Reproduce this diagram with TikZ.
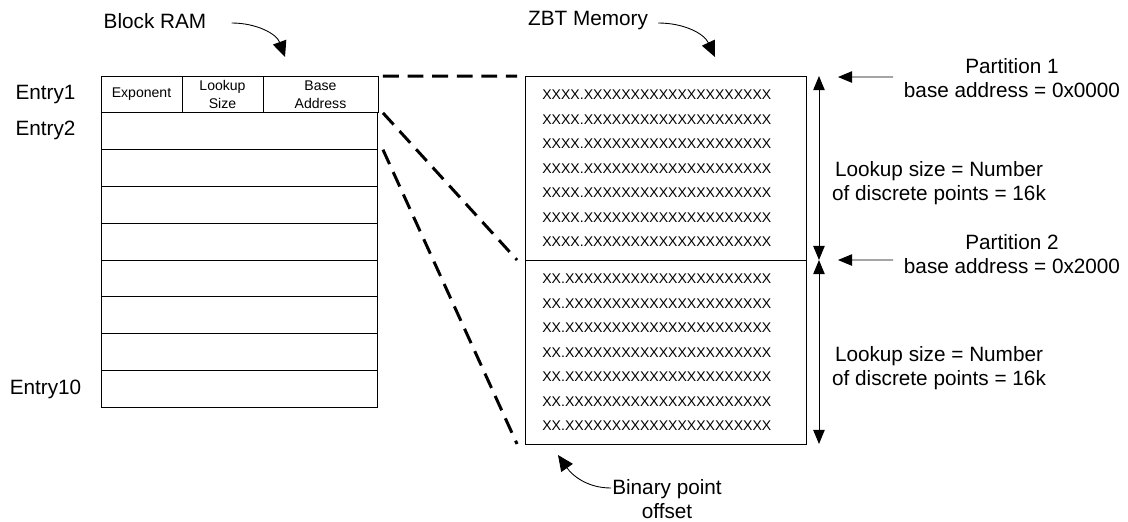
\documentclass[tikz,border=0pt]{standalone}
\usepackage{fontspec}
\setmainfont{Liberation Sans}
\usetikzlibrary{arrows.meta, positioning}
\tikzset{%
	ramcell/.style={
		draw,
		line width=0.55pt,
		inner sep=0pt,
		outer sep=0pt,
		minimum height=0.736cm,
		align=center,
		font=\fontsize{8}{10}\selectfont
	},
	zbthalf/.style={
		draw,
		line width=0.55pt,
		inner sep=0pt,
		outer sep=0pt,
		minimum width=5.62cm,
		minimum height=3.68cm
	},
	bits/.style={anchor=west, inner sep=0pt, font=\fontsize{8}{10}\selectfont},
	txt/.style={inner sep=0pt, align=center, font=\fontsize{11.8}{13.6}\selectfont},
	mapline/.style={dash pattern=on 9pt off 5pt, line width=1.7pt},
	bendarrow/.style={-{Triangle[length=9pt,width=8pt]}, line width=0.5pt},
	dimline/.style={{Triangle[length=8pt,width=6.5pt]}-{Triangle[length=8pt,width=6.5pt]}, line width=0.5pt},
	pointer/.style={-{Triangle[length=8pt,width=6.5pt]}, line width=0.5pt},
}

\begin{document}
\begin{tikzpicture}[x=0.02cm, y=-0.02cm]
			\useasboundingbox (0,0) rectangle (1128,521);
			
			% block RAM table
			\node[ramcell, minimum width=1.62cm] (exp) at (141.5,94.5) {Exponent};
			\node[ramcell, minimum width=1.62cm] (lsize) at (222.5,94.5) {Lookup\\Size};
			\node[ramcell, minimum width=2.3cm] (base) at (320.5,94.5) {Base\\Address};
			\foreach \r in {2,...,9}
				\node[ramcell, minimum width=5.54cm] (row\r) at (239.5,{94.5+36.8*(\r-1)}) {};
			
			\node[txt] (e1) at (45.5,95) {Entry1};
			\node[txt] (e2) at (45.5,130) {Entry2};
			\node[txt] (e10) at (45.5,389) {Entry10};
			
			% ZBT memory
			\node[zbthalf] (hi) at (665.5,168) {};
			\node[zbthalf] (lo) at (665.5,352) {};
			\foreach \i in {0,...,6} {
				\node[bits] (hib\i) at (542,{95+24.5*\i}) {XXXX.XXXXXXXXXXXXXXXXXXXX};
				\node[bits] (lob\i) at (542,{279+24.5*\i}) {XX.XXXXXXXXXXXXXXXXXXXXXX};
			}
			
			\draw[mapline] ([xshift=0.1cm]base.north east) -- ([xshift=-0.16cm]hi.north west);
			\draw[mapline] ([xshift=0.1cm]row2.north east) -- ([xshift=-0.16cm]hi.south west);
			\draw[mapline] ([xshift=0.1cm]row3.north east) -- ([xshift=-0.16cm]lo.south west);
			
			% titles
			\node[txt] (bram) at (155,21) {Block RAM};
			\node[txt] (zbt) at (588,21) {ZBT Memory};
			\coordinate (bramtip) at (285,57);
			\coordinate (zbttip) at (715,57);
			\draw[bendarrow] ([xshift=0.5cm,yshift=-0.04cm]bram.east) to[out=0, in=110] (bramtip);
			\draw[bendarrow] ([xshift=0.2cm,yshift=-0.04cm]zbt.east) to[out=0, in=115] (zbttip);
			
			% partitions
			\draw[dimline] ([xshift=0.26cm]hi.north east) -- ([xshift=0.26cm]hi.south east);
			\draw[dimline] ([xshift=0.26cm]lo.north east) -- ([xshift=0.26cm]lo.south east);
			
			\node[txt] (part1) at (1012,78.5) {Partition 1\\base address = 0x0000};
			\node[txt] (part2) at (1012,254.5) {Partition 2\\base address = 0x2000};
			\node[txt] (size1) at (939,183) {Lookup size = Number\\of discrete points = 16k};
			\node[txt] (size2) at (939,368) {Lookup size = Number\\of discrete points = 16k};
			
			\coordinate (p1tail) at (893,77);
			\coordinate (p2tail) at (893,260);
			\draw[pointer] (p1tail) -- ([xshift=0.64cm,yshift=-0.02cm]hi.north east);
			\draw[pointer] (p2tail) -- ([xshift=0.64cm]lo.north east);
			
			% binary point
			\node[txt] (bpoint) at (667,499.5) {Binary point\\offset};
			\coordinate (bpstart) at (611,488);
			\coordinate (bptip) at (558,455);
			\draw[bendarrow] (bpstart) to[out=180, in=-55] (bptip);
			
		\end{tikzpicture}
\end{document}
